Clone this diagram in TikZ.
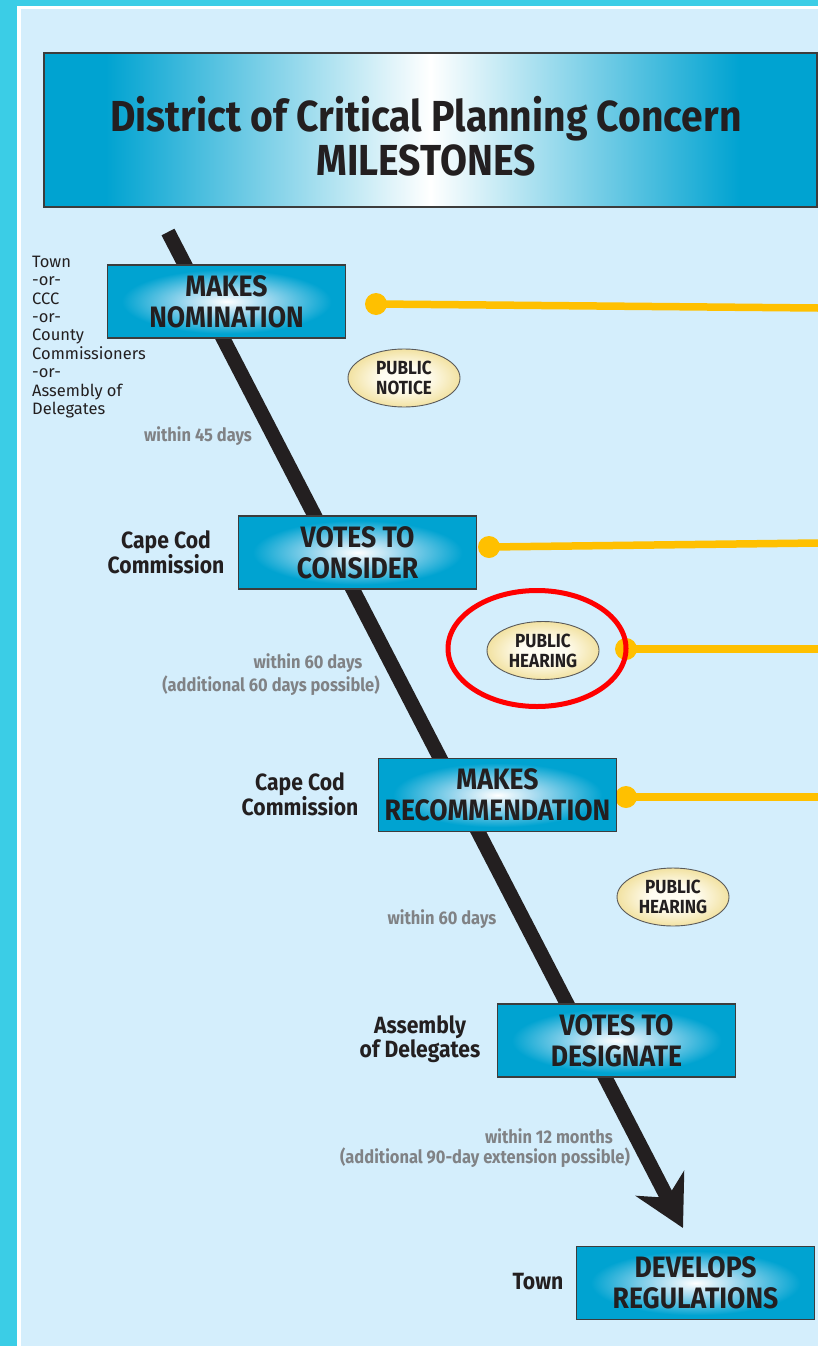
\documentclass[tikz,border=0pt]{standalone}
\usepackage{fontspec}
\setmainfont{Fira Sans}
\newfontfamily\cond{Fira Sans}[FakeStretch=0.9]
\usetikzlibrary{shapes.geometric,arrows.meta}
\definecolor{cyanframe}{HTML}{3BCDE6}
\definecolor{paleblue}{HTML}{D4EEFC}
\definecolor{boxblue}{HTML}{00A3D1}
\definecolor{boxlight}{HTML}{A8DBF0}
\definecolor{boxedge}{HTML}{3C3C3C}
\definecolor{ink}{HTML}{231F20}
\definecolor{amber}{HTML}{FFC000}
\definecolor{creamlight}{HTML}{FFFDF2}
\definecolor{creamdark}{HTML}{F2E2A2}
\definecolor{ovaledge}{HTML}{5A5A5A}
\definecolor{greytext}{HTML}{808285}
\definecolor{alertred}{HTML}{FF0000}
\pgfdeclarehorizontalshading{titleshade}{100bp}{color(0bp)=(boxblue); color(29bp)=(boxblue); color(50bp)=(white); color(70bp)=(boxblue); color(100bp)=(boxblue)}
\pgfdeclareradialshading{boxglow}{\pgfpoint{0bp}{0bp}}{color(0bp)=(white); color(8bp)=(boxlight); color(22bp)=(boxblue); color(50bp)=(boxblue)}
\pgfdeclareradialshading{ovalglow}{\pgfpoint{0bp}{0bp}}{color(0bp)=(creamlight); color(10bp)=(creamlight); color(25bp)=(creamdark); color(50bp)=(creamdark)}
\begin{document}
\begin{tikzpicture}[x=1pt,y=-1pt,
  milestone/.style={rectangle, draw=boxedge, line width=1.3pt, minimum width=238pt, minimum height=73pt,
    shading=boxglow, text=ink, align=center, inner sep=0pt, text depth=-6pt,
    font=\cond\bfseries\fontsize{29.5}{31}\selectfont},
  notice/.style={ellipse, draw=ovaledge, line width=0.9pt, minimum width=112pt, minimum height=58pt,
    shading=ovalglow, text=ink, align=center, inner sep=0pt,
    font=\cond\bfseries\fontsize{19}{20}\selectfont},
  actor/.style={text=ink, align=center, inner sep=0pt, font=\cond\bfseries\fontsize{23.5}{24}\selectfont},
  timing/.style={text=greytext, inner sep=0pt, font=\cond\bfseries\fontsize{18.3}{22}\selectfont},
  tie/.style={draw=amber, line width=7.5pt},
  tiedot/.style={circle, fill=amber, minimum size=22pt, inner sep=0pt}]
\useasboundingbox (0,0) rectangle (818,1346);
% frame
\fill[cyanframe] (0,0) rectangle (818,1346);
\fill[white] (17,6) rectangle (818,1346);
\fill[paleblue] (21,9) rectangle (818,1346);
% title
\node[rectangle, draw=boxedge, line width=1.3pt, minimum width=773pt, minimum height=154pt,
  shading=titleshade, inner sep=0pt] (titlebox) at (430.5,130) {};
\node[text=ink, align=center, inner sep=0pt, font=\cond\bfseries\fontsize{43.4}{44}\selectfont]
  (title) at (426,136.5) {District of Critical Planning Concern\\MILESTONES};
% main timeline bar
\coordinate (bartop) at (168,232);
\coordinate (bartip) at (683,1228);
\draw[ink, line width=14.5pt, -{Stealth[length=50pt,width=54pt,inset=16pt]}] (bartop) -- (bartip);
% yellow ties
\node[tiedot] (d1) at (376,304) {};
\coordinate (e1) at (818,308);
\draw[tie] (d1.center) -- (e1);
\node[tiedot] (d2) at (489,547) {};
\coordinate (e2) at (818,543);
\draw[tie] (d2.center) -- (e2);
\node[tiedot] (d3) at (626,649) {};
\coordinate (e3) at (818,649);
\draw[tie] (d3.center) -- (e3);
\node[tiedot] (d4) at (626,797) {};
\coordinate (e4) at (818,797);
\draw[tie] (d4.center) -- (e4);
% milestone boxes
\node[milestone] (nom) at (226.5,301.5) {MAKES\\NOMINATION};
\node[milestone] (con) at (357.5,552.5) {VOTES TO\\CONSIDER};
\node[milestone] (rec) at (497.5,795) {MAKES\\RECOMMENDATION};
\node[milestone] (des) at (616.5,1040.5) {VOTES TO\\DESIGNATE};
\node[milestone] (reg) at (695.5,1283) {DEVELOPS\\REGULATIONS};
% public notices / hearings
\node[notice] (pn) at (404,378) {PUBLIC\\NOTICE};
\node[notice] (ph1) at (543,650.5) {PUBLIC\\HEARING};
\node[notice] (ph2) at (673,897) {PUBLIC\\HEARING};
\node[ellipse, draw=alertred, line width=5pt, minimum width=178pt, minimum height=116pt, inner sep=0pt] (focus) at (537,648.5) {};
% actors
\node[text=ink, align=left, inner sep=0pt, anchor=west, font=\fontsize{16.5}{18.4}\selectfont] (who1) at (32,337)
  {Town\\-or-\\CCC\\-or-\\County\\Commissioners\\-or-\\Assembly of\\Delegates};
\node[actor] (who2) at (166,552) {Cape Cod\\Commission};
\node[actor] (who3) at (300,794) {Cape Cod\\Commission};
\node[actor] (who4) at (420,1039) {Assembly\\of Delegates};
\node[actor] (who5) at (538,1282) {Town};
% timings
\node[timing] (t1) at (198,436) {within 45 days};
\node[timing] (t2a) at (308,663) {within 60 days};
\node[timing] (t2b) at (271,686) {(additional 60 days possible)};
\node[timing] (t3) at (442,919) {within 60 days};
\node[timing] (t4a) at (549,1136) {within 12 months};
\node[timing] (t4b) at (485,1158) {(additional 90-day extension possible)};
\end{tikzpicture}
\end{document}
